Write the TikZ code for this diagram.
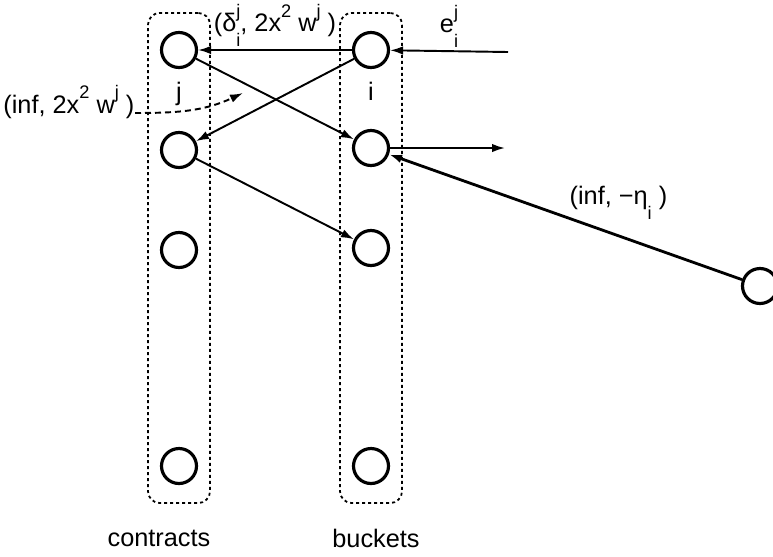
\documentclass[tikz,border=0pt]{standalone}
\usepackage{fontspec}
\setmainfont{Liberation Sans}
\usetikzlibrary{arrows.meta,positioning,fit}
\newcommand{\hi}[1]{\raisebox{1.05ex}{\scalebox{0.72}{#1}}}
\newcommand{\lo}[1]{\raisebox{-1.1ex}{\scalebox{0.72}{#1}}}
\newcommand{\supsub}[2]{\rlap{\hi{#2}}\lo{#1}}

\begin{document}
\begin{tikzpicture}[x=0.1mm, y=-0.1mm, every node/.style={font=\fontsize{7.2}{9}\selectfont}, vtx/.style={circle,draw,line width=0.9pt,minimum size=3.5mm,inner sep=0pt}, grp/.style={draw,dash pattern=on 0.3mm off 0.3mm,line width=0.5pt,rounded corners=1.2mm,inner xsep=1.2mm,inner ysep=1.8mm}, arr/.style={-{Latex[length=1.3mm,width=0.85mm]},line width=0.55pt}]
\useasboundingbox (0,0) rectangle (773,556);
% contracts
\node[vtx] (c1) at (179,50) {};
\node[vtx] (c2) at (179,150) {};
\node[vtx] (c3) at (179,250) {};
\node[vtx] (c4) at (179,466) {};
% buckets
\node[vtx] (b1) at (371,50) {};
\node[vtx] (b2) at (371,148) {};
\node[vtx] (b3) at (371,248) {};
\node[vtx] (b4) at (371,466) {};
\node[vtx] (snk) at (760,286) {};
\node[grp,fit=(c1)(c4)] (cbox) {};
\node[grp,fit=(b1)(b4)] (bbox) {};
\node[below=0.1mm of c1] (jlab) {j};
\node[below=0.1mm of b1] (ilab) {i};
\node (cname) at (159,538) {contracts};
\node (bname) at (376,538) {buckets};
\coordinate (ein) at (508,52);
\coordinate (bout) at (505,148);
\coordinate (dtip) at (243,93);
\node[anchor=base east,inner sep=0pt] (infw) at (135,113) {(inf, 2x\hi{2} w\hi{j} )};
\draw[arr] (b1)-- node[above=0.3mm,inner sep=0pt]{(δ\supsub{i}{j}, 2x\hi{2} w\hi{j} )} (c1);
\draw[arr] (ein)-- node[above=0.3mm,inner sep=0pt]{e\supsub{i}{j}} (b1);
\draw[arr] (c1)--(b2);
\draw[arr] (b1)--(c2);
\draw[arr] (c2)--(b3);
\draw[arr] (b2)--(bout);
\draw[arr,line width=0.8pt] (snk)-- node[above=0.3mm,pos=0.35]{(inf, −η\lo{i} )} (b2);
\draw[arr,dash pattern=on 0.6mm off 0.4mm] (infw.base east) to[out=0,in=205] (dtip);
\end{tikzpicture}
\end{document}
